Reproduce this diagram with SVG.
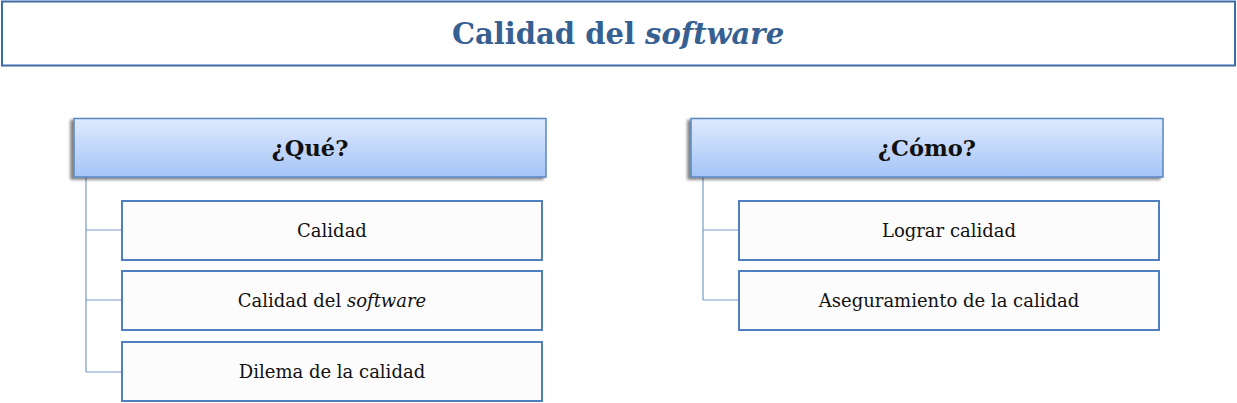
<svg xmlns="http://www.w3.org/2000/svg" width="1237" height="403" viewBox="0 0 1237 403">
<style>
.t{font-family:"DejaVu Serif","Liberation Serif",serif;text-anchor:middle;fill:#111}
.h{font-size:22.5px;font-weight:bold}
.c{font-size:18px}
.child{fill:#fcfcfc;stroke:#4f7fbf;stroke-width:2}
.head{fill:url(#g);stroke:#5a86c0;stroke-width:1.5}
.conn{fill:none;stroke:#7b9bc7;stroke-width:1.2}
</style>
<defs>
<linearGradient id="g" x1="0" y1="0" x2="0" y2="1">
<stop offset="0" stop-color="#dfeafd"/>
<stop offset="1" stop-color="#a5c4f7"/>
</linearGradient>
<filter id="sh" x="-5%" y="-10%" width="110%" height="130%">
<feGaussianBlur in="SourceAlpha" stdDeviation="1.5"/>
<feOffset dx="-3" dy="2"/>
<feComponentTransfer><feFuncA type="linear" slope="0.5"/></feComponentTransfer>
<feMerge><feMergeNode/><feMergeNode in="SourceGraphic"/></feMerge>
</filter>
</defs>
<rect width="1237" height="403" fill="#fff"/>
<g id="title">
<rect x="2" y="1.5" width="1233" height="64" fill="#fff" stroke="#3d6ca7" stroke-width="2"/>
<text x="618" y="44" class="t" style="font-size:29px;font-weight:bold;fill:#366092">Calidad del <tspan font-style="italic">software</tspan></text>
</g>
<g id="connectors">
<path class="conn" d="M86 177V372M86 230H122M86 300H122M86 372H122"/>
<path class="conn" d="M703 177V300M703 230H739M703 300H739"/>
</g>
<g id="que">
<rect class="head" x="74" y="118.5" width="472" height="58.5" filter="url(#sh)"/>
<text class="t h" x="310" y="156">¿Qué?</text>
</g>
<g id="calidad">
<rect class="child" x="122" y="201" width="420" height="59"/>
<text class="t c" x="332" y="237">Calidad</text>
</g>
<g id="calidad-software">
<rect class="child" x="122" y="271" width="420" height="59"/>
<text class="t c" x="332" y="307">Calidad del <tspan font-style="italic">software</tspan></text>
</g>
<g id="dilema">
<rect class="child" x="122" y="342" width="420" height="59"/>
<text class="t c" x="332" y="378">Dilema de la calidad</text>
</g>
<g id="como">
<rect class="head" x="691" y="118.5" width="472" height="58.5" filter="url(#sh)"/>
<text class="t h" x="927" y="156">¿Cómo?</text>
</g>
<g id="lograr">
<rect class="child" x="739" y="201" width="420" height="59"/>
<text class="t c" x="949" y="237">Lograr calidad</text>
</g>
<g id="aseguramiento">
<rect class="child" x="739" y="271" width="420" height="59"/>
<text class="t c" x="949" y="307">Aseguramiento de la calidad</text>
</g>
</svg>
